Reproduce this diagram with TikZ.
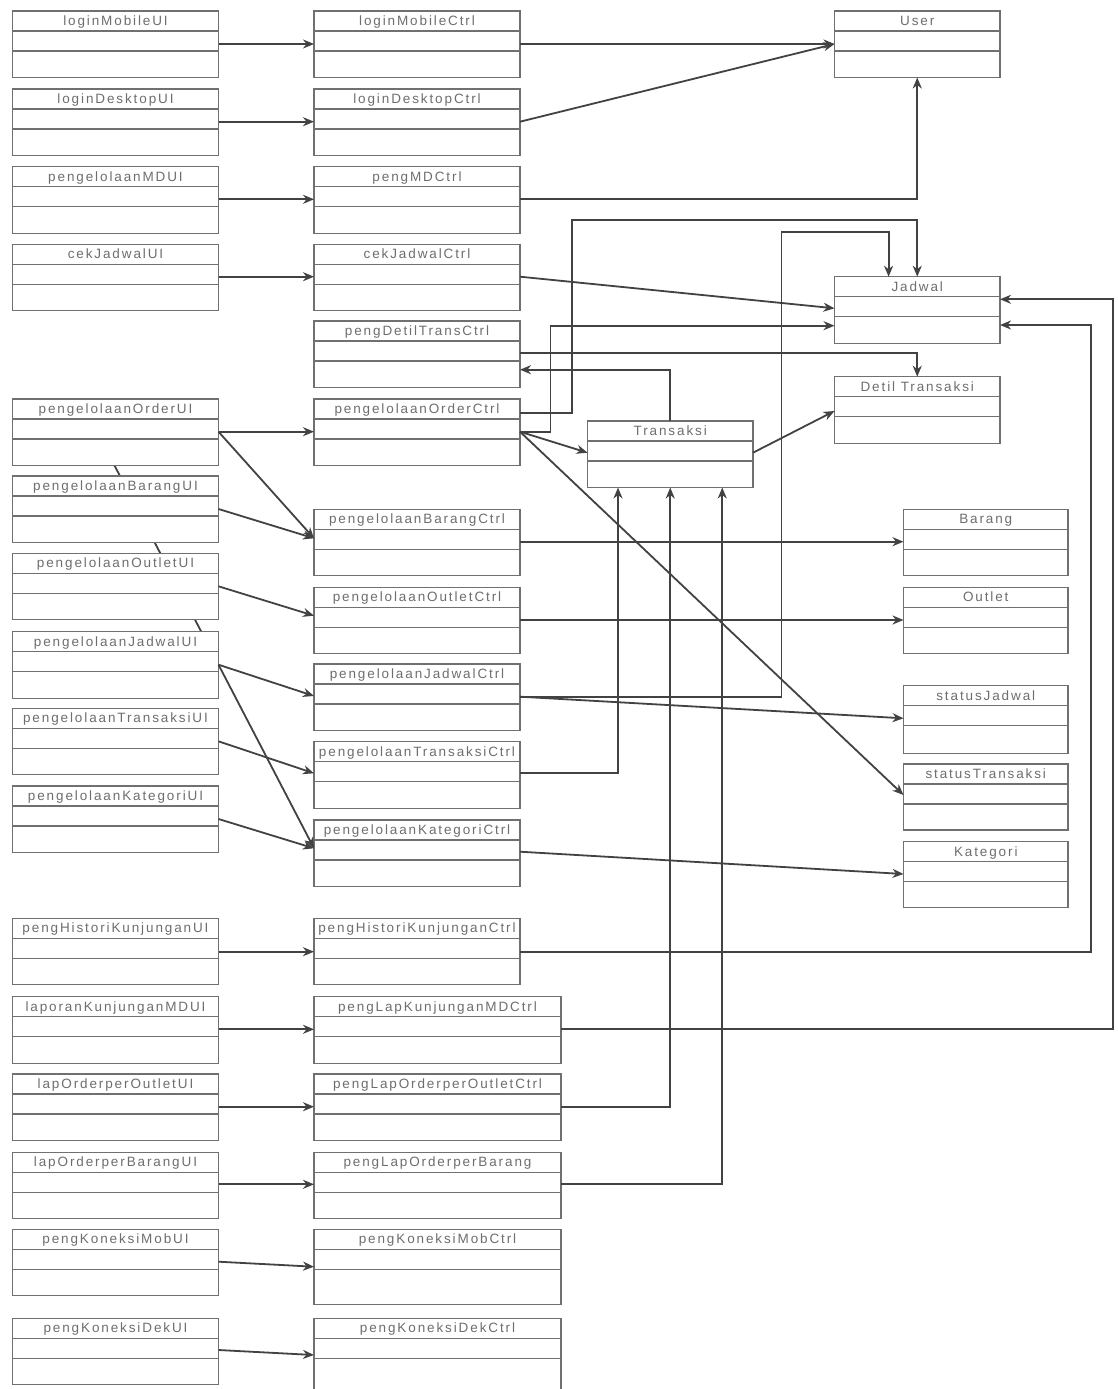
\documentclass[tikz,border=0pt]{standalone}
\usepackage{fontspec}
\setmainfont{Liberation Sans}
\newfontfamily\lblfont[LetterSpace=14]{Liberation Sans}
\usetikzlibrary{arrows.meta,backgrounds,calc}

\definecolor{boxgray}{RGB}{112,112,112}
\definecolor{txtgray}{RGB}{110,110,110}
\definecolor{wiregray}{RGB}{66,66,66}

\tikzset{
  cls/.style={draw=boxgray, line width=1.3pt, fill=white, inner sep=0pt,
    outer sep=0pt, anchor=north west},
  sepline/.style={draw=boxgray, line width=1.3pt},
  lbl/.style={text=txtgray, font={\lblfont\fontsize{13.5}{15}\selectfont},
    inner sep=0pt, anchor=base},
  wire/.style={draw=wiregray, line width=1.8pt},
  conn/.style={wire, -{Stealth[length=11pt,width=9pt,inset=3.5pt]}},
}

% class box: name, left, top, width, height, title
\newcommand\umlclass[6]{%
  \node[cls, minimum width=#4pt, minimum height=#5pt] (#1) at (#2,#3) {};
  \draw[sepline] ([yshift=-20pt]#1.north west) -- ([yshift=-20pt]#1.north east);
  \draw[sepline] ([yshift=-40pt]#1.north west) -- ([yshift=-40pt]#1.north east);
  \node[lbl] at ([yshift=-14.5pt]#1.north) {#6};
}

\begin{document}
\begin{tikzpicture}[x=1pt, y=-1pt]
\useasboundingbox (0,0) rectangle (1117,1389);

% boundary classes
\umlclass{uLM}{12.5}{11}{206}{66.5}{loginMobileUI}
\umlclass{uLD}{12.5}{89}{206}{66.5}{loginDesktopUI}
\umlclass{uMD}{12.5}{166.7}{206}{66.5}{pengelolaanMDUI}
\umlclass{uCJ}{12.5}{244.3}{206}{66.5}{cekJadwalUI}
\umlclass{uOR}{12.5}{399}{206}{66.5}{pengelolaanOrderUI}
\umlclass{uBR}{12.5}{476}{206}{66.5}{pengelolaanBarangUI}
\umlclass{uOT}{12.5}{553.3}{206}{66.5}{pengelolaanOutletUI}
\umlclass{uJD}{12.5}{631.7}{206}{66.5}{pengelolaanJadwalUI}
\umlclass{uTR}{12.5}{708.3}{206}{66.5}{pengelolaanTransaksiUI}
\umlclass{uKT}{12.5}{786}{206}{66.5}{pengelolaanKategoriUI}
\umlclass{uHK}{12.5}{918.3}{206}{66.5}{pengHistoriKunjunganUI}
\umlclass{uLK}{12.5}{996.7}{206}{66.5}{laporanKunjunganMDUI}
\umlclass{uLO}{12.5}{1074}{206}{66.5}{lapOrderperOutletUI}
\umlclass{uLB}{12.5}{1152.3}{206}{66.5}{lapOrderperBarangUI}
\umlclass{uKM}{12.5}{1229.3}{206}{66.5}{pengKoneksiMobUI}
\umlclass{uKD}{12.5}{1318.3}{206}{66.5}{pengKoneksiDekUI}

% control classes
\umlclass{cLM}{314}{11}{206}{66.5}{loginMobileCtrl}
\umlclass{cLD}{314}{89}{206}{66.5}{loginDesktopCtrl}
\umlclass{cMD}{314}{166.7}{206}{66.5}{pengMDCtrl}
\umlclass{cCJ}{314}{244.3}{206}{66.5}{cekJadwalCtrl}
\umlclass{cDT}{314}{321}{206}{66.5}{pengDetilTransCtrl}
\umlclass{cOR}{314}{399}{206}{66.5}{pengelolaanOrderCtrl}
\umlclass{cBR}{314}{509.3}{206}{66.5}{pengelolaanBarangCtrl}
\umlclass{cOT}{314}{587.3}{206}{66.5}{pengelolaanOutletCtrl}
\umlclass{cJD}{314}{664}{206}{66.5}{pengelolaanJadwalCtrl}
\umlclass{cTR}{314}{741.7}{206}{66.5}{pengelolaanTransaksiCtrl}
\umlclass{cKT}{314}{820}{206}{66.5}{pengelolaanKategoriCtrl}
\umlclass{cHK}{314}{918.3}{206}{66.5}{pengHistoriKunjunganCtrl}
\umlclass{cLK}{314}{996.7}{247}{66.5}{pengLapKunjunganMDCtrl}
\umlclass{cLO}{314}{1074}{247}{66.5}{pengLapOrderperOutletCtrl}
\umlclass{cLB}{314}{1152.3}{247}{66.5}{pengLapOrderperBarang}
\umlclass{cKM}{314}{1229.3}{247}{75}{pengKoneksiMobCtrl}
\umlclass{cKD}{314}{1318.3}{247}{80}{pengKoneksiDekCtrl}

% entity classes
\umlclass{eUS}{834.5}{11}{165.5}{66.5}{User}
\umlclass{eJD}{834.5}{276.7}{165.5}{66.5}{Jadwal}
\umlclass{eDT}{834.5}{376.7}{165.5}{66.5}{Detil Transaksi}
\umlclass{eTR}{587.5}{421}{165.5}{66.5}{Transaksi}
\umlclass{eBR}{903.5}{509.3}{164.5}{66.5}{Barang}
\umlclass{eOT}{903.5}{587.3}{164.5}{66.5}{Outlet}
\umlclass{eSJ}{903.5}{685.7}{164.5}{67.5}{statusJadwal}
\umlclass{eST}{903.5}{764}{164.5}{66}{statusTransaksi}
\umlclass{eKT}{903.5}{841.7}{164.5}{66}{Kategori}

% boundary -> control
\draw[conn] ([yshift=-33pt]uLM.north east) -- ([yshift=-33pt]cLM.north west);
\draw[conn] ([yshift=-32.7pt]uLD.north east) -- ([yshift=-32.7pt]cLD.north west);
\draw[conn] ([yshift=-32.6pt]uMD.north east) -- ([yshift=-32.6pt]cMD.north west);
\draw[conn] ([yshift=-32.4pt]uCJ.north east) -- ([yshift=-32.4pt]cCJ.north west);
\draw[conn] ([yshift=-32.7pt]uOR.north east) -- ([yshift=-32.7pt]cOR.north west);
\draw[conn] ([yshift=-32.7pt]uOR.north east) -- ([yshift=-29pt]cBR.north west);
\draw[conn] ([yshift=-33pt]uBR.north east) -- ([yshift=-29pt]cBR.north west);
\draw[conn] ([yshift=-33pt]uOT.north east) -- ([yshift=-28.4pt]cOT.north west);
\draw[conn] ([yshift=-33pt]uJD.north east) -- ([yshift=-32pt]cJD.north west);
\draw[conn] ([yshift=-33pt]uJD.north east) -- ([yshift=-28.3pt]cKT.north west);
\draw[conn] ([yshift=-33pt]uTR.north east) -- ([yshift=-31.6pt]cTR.north west);
\draw[conn] ([yshift=-33pt]uKT.north east) -- ([yshift=-28.3pt]cKT.north west);
\draw[conn] ([yshift=-33.4pt]uHK.north east) -- ([yshift=-33.4pt]cHK.north west);
\draw[conn] ([yshift=-32.6pt]uLK.north east) -- ([yshift=-32.6pt]cLK.north west);
\draw[conn] ([yshift=-32.7pt]uLO.north east) -- ([yshift=-32.7pt]cLO.north west);
\draw[conn] ([yshift=-32pt]uLB.north east) -- ([yshift=-32pt]cLB.north west);
\draw[conn] ([yshift=-32.4pt]uKM.north east) -- ([yshift=-37.4pt]cKM.north west);
\draw[conn] ([yshift=-31.7pt]uKD.north east) -- ([yshift=-36.7pt]cKD.north west);

% control -> entity
\draw[conn] ([yshift=-33pt]cLM.north east) -- ([yshift=-33pt]eUS.north west);
\draw[conn] ([yshift=-32.7pt]cLD.north east) -- ([yshift=-33pt]eUS.north west);
\draw[conn] ([yshift=-32.6pt]cMD.north east) -| (eUS.south);
\draw[conn] ([yshift=-32.4pt]cCJ.north east) -- ([yshift=-31.6pt]eJD.north west);
\draw[conn] ([yshift=-14.3pt]cOR.north east) -- ++(52,0) |- ([yshift=56.7pt]eJD.north) -- (eJD.north);
\draw[conn] ([yshift=-32.7pt]cJD.north east) -- ++(261.5,0) |- ([yshift=44.4pt,xshift=-28.65pt]eJD.north) -- ([xshift=-28.65pt]eJD.north);
\draw[conn] ([yshift=-32.7pt]cOR.north east) -- ++(30.4,0) |- ([yshift=-49pt]eJD.north west);
\draw[conn] ([yshift=-32.3pt]cDT.north east) -| (eDT.north);
\draw[conn] (eTR.north) |- ([yshift=-48.7pt]cDT.north east);
\draw[conn] ([yshift=-32.7pt]cOR.north east) -- ([yshift=-31.7pt]eTR.north west);
\draw[conn] ([yshift=-31.7pt]eTR.north east) -- ([yshift=-34.3pt]eDT.north west);
\draw[conn] ([yshift=-32.7pt]cOR.north east) -- ([yshift=-31pt]eST.north west);
\draw[conn] ([yshift=-32.4pt]cBR.north east) -- ([yshift=-32.4pt]eBR.north west);
\draw[conn] ([yshift=-32.7pt]cOT.north east) -- ([yshift=-32.7pt]eOT.north west);
\draw[conn] ([yshift=-32.7pt]cJD.north east) -- ([yshift=-32.6pt]eSJ.north west);
\draw[conn] ([yshift=-31.7pt]cKT.north east) -- ([yshift=-32.3pt]eKT.north west);
\draw[conn] ([yshift=-31.6pt]cTR.north east) -| ([xshift=-52.25pt]eTR.south);
\draw[conn] ([yshift=-32.7pt]cLO.north east) -| (eTR.south);
\draw[conn] ([yshift=-32pt]cLB.north east) -| ([xshift=52pt]eTR.south);
\draw[conn] ([yshift=-33.4pt]cHK.north east) -- ++(570.6,0) |- ([yshift=-48.3pt]eJD.north east);
\draw[conn] ([yshift=-32.6pt]cLK.north east) -- ++(552,0) |- ([yshift=-22.6pt]eJD.north east);

\begin{scope}[on background layer]
  \fill[white] (0,0) rectangle (1117,1389);
  % association running behind the boundary boxes
  \draw[wire] ([yshift=-33pt]uJD.north east) -- ($(uOR.north west)+(84.5,33)$);
\end{scope}
\end{tikzpicture}
\end{document}
